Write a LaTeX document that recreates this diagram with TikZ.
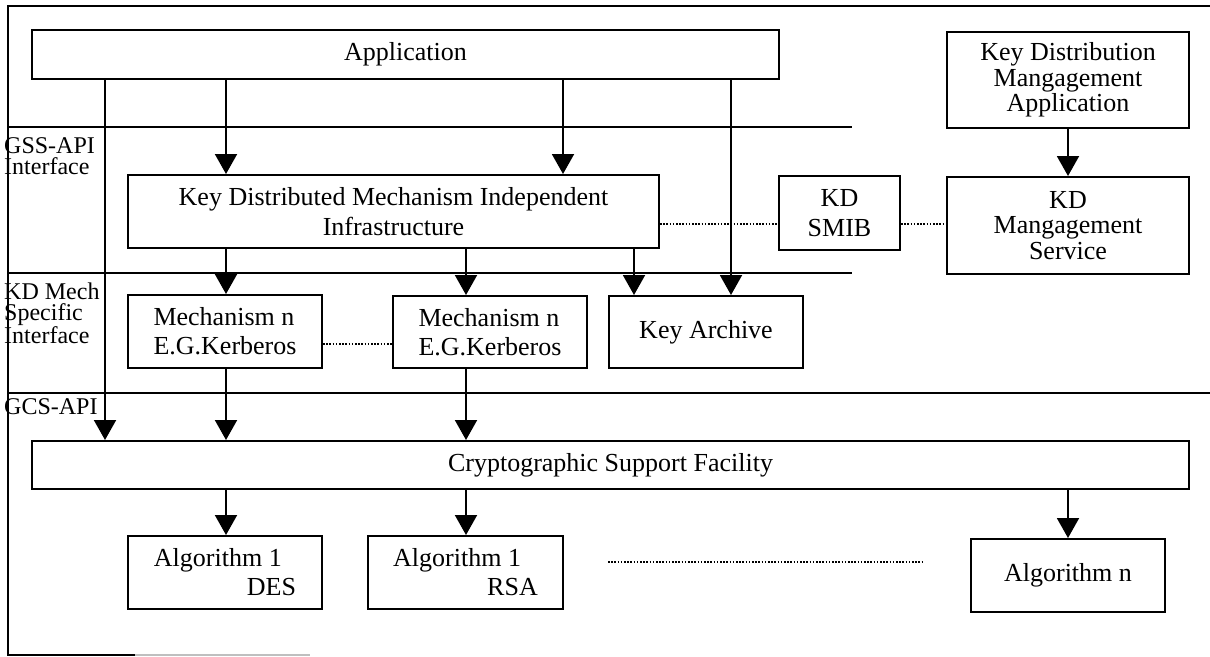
\documentclass[tikz,border=0pt]{standalone}
\usepackage{fontspec}
\setmainfont{Liberation Serif}
\usetikzlibrary{arrows.meta}
\begin{document}
\begin{tikzpicture}[x=1pt,y=-1pt,
  every node/.style={font=\fontsize{26}{29}\selectfont},
  box/.style={draw, line width=2pt, inner sep=0pt, align=center},
  arr/.style={line width=2pt, -{Triangle[length=20pt,width=22pt]}},
  sepline/.style={line width=2pt},
  dots/.style={line width=1.6pt, dash pattern=on 1.6pt off 1.6pt},
  lbl/.style={anchor=west, inner sep=0pt, align=left, font=\fontsize{24}{21}\selectfont}]
\useasboundingbox (0,0) rectangle (1210,656);
\fill[white] (0,0) rectangle (1210,656);

% frame and layer separators
\draw[sepline] (1210,6) -- (8,6) -- (8,655) -- (135,655);
\draw[line width=1.5pt, gray!50] (135,655) -- (310,655);
\draw[sepline] (8,127) -- (852,127);
\draw[sepline] (8,273) -- (852,273);
\draw[sepline] (8,393) -- (1210,393);

% layer labels
\node[lbl] (gss) at (4,156) {GSS-API\\Interface};
\node[lbl] (kdm) at (4,313) {KD Mech\\Specific\\Interface};
\node[lbl] (gcs) at (4,407) {GCS-API};

% boxes
\node[box, minimum width=747pt, minimum height=49pt] (app) at (405.5,54.5) {Application};
\node[box, minimum width=242pt, minimum height=96pt, font=\fontsize{26}{25.5}\selectfont] (kdma) at (1068,80) {Key Distribution\\Mangagement\\Application};
\node[box, minimum width=531pt, minimum height=73pt, font=\fontsize{26}{30}\selectfont] (kdmi) at (393.5,211.5) {Key Distributed Mechanism Independent\\Infrastructure};
\node[box, minimum width=121pt, minimum height=74pt, font=\fontsize{26}{30}\selectfont] (smib) at (839.5,213) {KD\\SMIB};
\node[box, minimum width=242pt, minimum height=97pt, font=\fontsize{26}{25.5}\selectfont] (kdms) at (1068,225.5) {KD\\Mangagement\\Service};
\node[box, align=left, minimum width=194pt, minimum height=73pt] (mech1) at (225,331.5) {Mechanism n\\E.G.Kerberos};
\node[box, align=left, minimum width=194pt, minimum height=72pt] (mech2) at (490,332) {Mechanism n\\E.G.Kerberos};
\node[box, minimum width=194pt, minimum height=72pt] (ka) at (706,332) {Key Archive};
\node[box, minimum width=1157pt, minimum height=48pt] (csf) at (610.5,465) {Cryptographic Support Facility};
\node[box, align=left, minimum width=194pt, minimum height=73pt] (alg1) at (225,572.5) {Algorithm 1\\\hspace*{93pt}DES};
\node[box, align=left, minimum width=195pt, minimum height=73pt] (alg2) at (465.5,572.5) {Algorithm 1\\\hspace*{94pt}RSA};
\node[box, minimum width=194pt, minimum height=73pt] (algn) at (1068,575.5) {Algorithm n};

% connector columns
\coordinate (xa) at (105,0);
\coordinate (xb) at (226,0);
\coordinate (xc) at (563,0);
\coordinate (xd) at (731,0);
\coordinate (xe) at (466,0);
\coordinate (xf) at (634,0);
\coordinate (xg) at (1068,0);

\draw[arr] (app.south -| xa) -- (csf.north -| xa);
\draw[arr] (app.south -| xb) -- (kdmi.north -| xb);
\draw[arr] (app.south -| xc) -- (kdmi.north -| xc);
\draw[arr] (app.south -| xd) -- (ka.north -| xd);
\draw[arr] (kdmi.south -| xb) -- (mech1.north -| xb);
\draw[arr] (kdmi.south -| xe) -- (mech2.north -| xe);
\draw[arr] (kdmi.south -| xf) -- (ka.north -| xf);
\draw[arr] (mech1.south -| xb) -- (csf.north -| xb);
\draw[arr] (mech2.south -| xe) -- (csf.north -| xe);
\draw[arr] (csf.south -| xb) -- (alg1.north -| xb);
\draw[arr] (csf.south -| xe) -- (alg2.north -| xe);
\draw[arr] (csf.south -| xg) -- (algn.north -| xg);
\draw[arr] (kdma.south) -- (kdms.north);

% dotted links
\coordinate (yd) at (0,224);
\coordinate (ym) at (0,344);
\draw[dots] (kdmi.east |- yd) -- (smib.west |- yd);
\draw[dots] (smib.east |- yd) -- (kdms.west |- yd);
\draw[dots] (mech1.east |- ym) -- (mech2.west |- ym);
\coordinate (d1) at (608,562);
\coordinate (d2) at (923,562);
\draw[dots] (d1) -- (d2);
\end{tikzpicture}
\end{document}
